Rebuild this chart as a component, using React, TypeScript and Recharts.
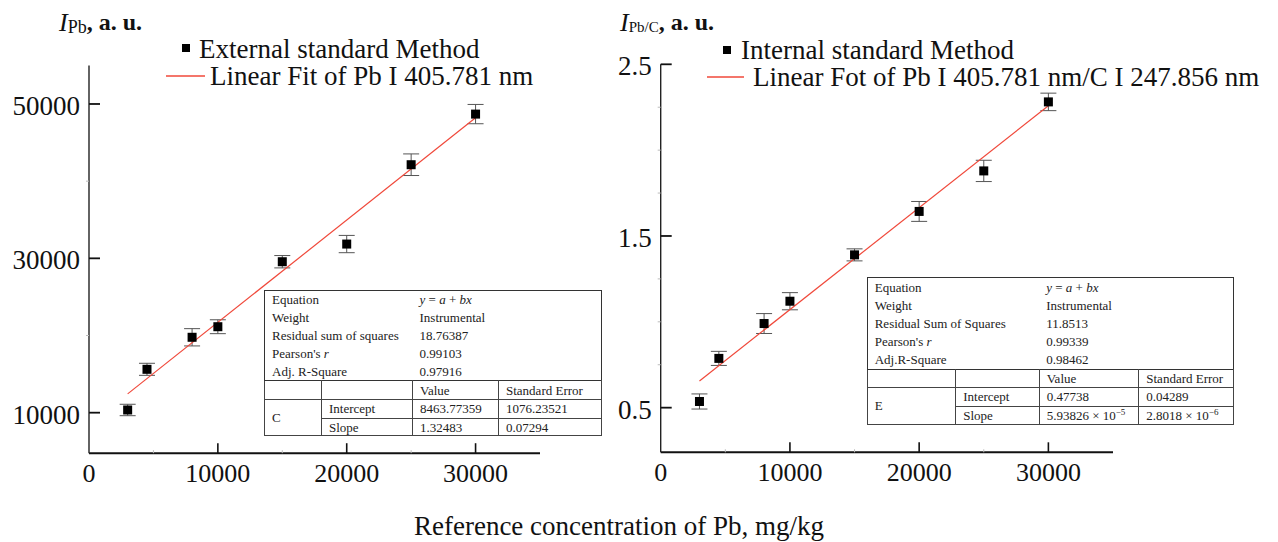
import React from "react";
import { ScatterChart, Scatter, XAxis, YAxis, ErrorBar } from "recharts";

const SERIF = "'Liberation Serif', 'Times New Roman', serif";
const INK = "#111";
const FIT_RED = "#f0483a";

// Pb content of the reference samples, mg/kg
const CONC = [3000, 4500, 8000, 10000, 15000, 20000, 25000, 30000];

// external standard: Pb I 405.781 nm intensity
const EXT_I = [10350, 15620, 19770, 21140, 29560, 31850, 42130, 48690];
const EXT_ERR = [740, 780, 1120, 900, 800, 1120, 1400, 1250];

// internal standard: Pb I 405.781 nm / C I 247.856 nm
const INT_I = [0.536, 0.787, 0.99, 1.12, 1.39, 1.643, 1.879, 2.281];
const INT_ERR = [0.044, 0.041, 0.058, 0.05, 0.035, 0.058, 0.062, 0.051];

// ends of the fitted lines
const FIT_X = [3000, 30000];
const EXT_FIT = [12438, 48208];
const INT_FIT = [0.6556, 2.2588];

const X_TICKS = [0, 5000, 10000, 15000, 20000, 25000, 30000];
const EXT_TICKS = [10000, 20000, 30000, 40000, 50000];
const EXT_LABELED = [10000, 30000, 50000];
const INT_TICKS = [0.5, 0.75, 1, 1.25, 1.5, 1.75, 2, 2.25, 2.5];
const INT_LABELED = [0.5, 1.5, 2.5];

const eq = (
  <>
    <i>y</i> = <i>a</i> + <i>bx</i>
  </>
);
const pearson = (
  <>
    Pearson's <i>r</i>
  </>
);

const EXT_STATS: [React.ReactNode, React.ReactNode][] = [
  ["Equation", eq],
  ["Weight", "Instrumental"],
  ["Residual sum of squares", "18.76387"],
  [pearson, "0.99103"],
  ["Adj. R-Square", "0.97916"],
];
const EXT_PARAMS: [string, React.ReactNode, React.ReactNode][] = [
  ["Intercept", "8463.77359", "1076.23521"],
  ["Slope", "1.32483", "0.07294"],
];

const sup = (p: string) => (
  <span style={{ fontSize: 9, verticalAlign: "5px", lineHeight: 0 }}>{p}</span>
);

const INT_STATS: [React.ReactNode, React.ReactNode][] = [
  ["Equation", eq],
  ["Weight", "Instrumental"],
  ["Residual Sum of Squares", "11.8513"],
  [pearson, "0.99339"],
  ["Adj.R-Square", "0.98462"],
];
const INT_PARAMS: [string, React.ReactNode, React.ReactNode][] = [
  ["Intercept", "0.47738", "0.04289"],
  ["Slope", <>5.93826 × 10{sup("−5")}</>, <>2.8018 × 10{sup("−6")}</>],
];

const AXIS_W = 60; // room given to the y axis
const AXIS_H = 40; // room given to the x axis

const Square = (props: any) => (
  <rect x={props.cx - 4.5} y={props.cy - 4.5} width={9} height={9} fill="#000" />
);
const NoDot = () => <g />;

const XTick = (props: any) => {
  const { x, y, payload } = props;
  const v = payload.value;
  const major = v % 10000 === 0;
  return (
    <g>
      {v !== 0 && (
        <line
          x1={x}
          x2={x}
          y1={y}
          y2={y - (major ? 10 : 3)}
          stroke={major ? INK : "#bbb"}
          strokeWidth={major ? 1.6 : 1}
        />
      )}
      {major && (
        <text
          x={x}
          y={y + 20}
          textAnchor="middle"
          dominantBaseline="central"
          fontFamily={SERIF}
          fontSize={26}
          fill={INK}
        >
          {v}
        </text>
      )}
    </g>
  );
};

function yTick(labeled: number[]) {
  return (props: any) => {
    const { x, y, payload } = props;
    const major = labeled.includes(payload.value);
    return (
      <g>
        {major ? (
          <line x1={x} x2={x + 11} y1={y} y2={y} stroke={INK} strokeWidth={1.8} />
        ) : (
          <line x1={x} x2={x - 3} y1={y} y2={y} stroke="#bbb" />
        )}
        {major && (
          <text
            x={x - 9}
            y={y + 2}
            textAnchor="end"
            dominantBaseline="central"
            fontFamily={SERIF}
            fontSize={27}
            fill={INK}
          >
            {payload.value}
          </text>
        )}
      </g>
    );
  };
}

function Panel(props: {
  left: number;
  width: number;
  plot: { top: number; right: number; bottom: number; left: number };
  yDomain: [number, number];
  yTicks: number[];
  labeled: number[];
  values: number[];
  errors: number[];
  fit: number[];
}) {
  const points = CONC.map((x, i) => ({ x, y: props.values[i], err: props.errors[i] }));
  const fitLine = FIT_X.map((x, i) => ({ x, y: props.fit[i] }));
  const p = props.plot;
  const margin = {
    top: p.top,
    right: p.right,
    bottom: p.bottom - AXIS_H,
    left: p.left - AXIS_W,
  };
  return (
    <div style={{ position: "absolute", left: props.left, top: 0 }}>
      <ScatterChart width={props.width} height={542} margin={margin}>
        <XAxis
          type="number"
          dataKey="x"
          domain={[0, 35000]}
          ticks={X_TICKS}
          interval={0}
          height={AXIS_H}
          tickSize={0}
          tickMargin={0}
          tickLine={false}
          axisLine={{ stroke: INK, strokeWidth: 2 }}
          tick={XTick}
        />
        <YAxis
          type="number"
          dataKey="y"
          domain={props.yDomain}
          ticks={props.yTicks}
          interval={0}
          width={AXIS_W}
          tickSize={0}
          tickMargin={0}
          tickLine={false}
          axisLine={{ stroke: "#222", strokeWidth: 1.4 }}
          tick={yTick(props.labeled)}
        />
        <Scatter
          data={fitLine}
          line={{ stroke: FIT_RED, strokeWidth: 1.2 }}
          shape={NoDot}
          isAnimationActive={false}
        />
        <Scatter data={points} shape={Square} isAnimationActive={false}>
          <ErrorBar
            dataKey="err"
            direction="y"
            width={8}
            stroke="#555"
            strokeWidth={1}
            isAnimationActive={false}
          />
        </Scatter>
      </ScatterChart>
    </div>
  );
}

function FitTable(props: {
  left: number;
  top: number;
  cols: number[];
  infoH: number;
  lowH: number[];
  stats: [React.ReactNode, React.ReactNode][];
  group: string;
  params: [string, React.ReactNode, React.ReactNode][];
}) {
  const cell: React.CSSProperties = { padding: "0 0 0 7px", whiteSpace: "nowrap" };
  const grid: React.CSSProperties = { ...cell, border: "1px solid #444" };
  const head: React.CSSProperties = { ...grid, borderTop: "1.6px solid #333" };
  const width = props.cols.reduce((a, b) => a + b, 0);
  return (
    <table
      style={{
        position: "absolute",
        left: props.left,
        top: props.top,
        width,
        borderCollapse: "collapse",
        tableLayout: "fixed",
        background: "#fff",
        border: "1.6px solid #333",
        fontFamily: SERIF,
        fontSize: 13,
        lineHeight: "13px",
        color: "#222",
      }}
    >
      <colgroup>
        {props.cols.map((w, i) => (
          <col key={i} style={{ width: w }} />
        ))}
      </colgroup>
      <tbody>
        {props.stats.map(([k, v], i) => (
          <tr key={i} style={{ height: props.infoH }}>
            <td colSpan={2} style={cell}>
              {k}
            </td>
            <td colSpan={2} style={cell}>
              {v}
            </td>
          </tr>
        ))}
        <tr style={{ height: props.lowH[0] }}>
          <td style={head} />
          <td style={head} />
          <td style={head}>Value</td>
          <td style={head}>Standard Error</td>
        </tr>
        {props.params.map(([name, val, err], i) => (
          <tr key={name} style={{ height: props.lowH[i + 1] }}>
            {i === 0 && (
              <td rowSpan={2} style={grid}>
                {props.group}
              </td>
            )}
            <td style={grid}>{name}</td>
            <td style={grid}>{val}</td>
            <td style={grid}>{err}</td>
          </tr>
        ))}
      </tbody>
    </table>
  );
}

function Overlay() {
  const t = { fontFamily: SERIF, fill: INK, dominantBaseline: "central" as const };
  return (
    <svg
      width={1278}
      height={542}
      style={{ position: "absolute", left: 0, top: 0, pointerEvents: "none" }}
    >
      {/* y titles */}
      <text x={59} y={22} {...t}>
        <tspan fontStyle="italic" fontSize={26}>I</tspan>
        <tspan fontSize={18} dy={5}>Pb</tspan>
        <tspan fontSize={24} fontWeight="bold" dy={-5}>, a. u.</tspan>
      </text>
      <text x={620} y={22} {...t}>
        <tspan fontStyle="italic" fontSize={26}>I</tspan>
        <tspan fontSize={15} dy={5}>Pb/C</tspan>
        <tspan fontSize={24} fontWeight="bold" dy={-5}>, a. u.</tspan>
      </text>

      {/* left legend */}
      <rect x={182} y={44} width={8} height={8} fill="#000" />
      <text x={199} y={48.5} fontSize={27} {...t}>External standard Method</text>
      <line x1={166} x2={205} y1={76} y2={76} stroke={FIT_RED} strokeWidth={1.4} />
      <text x={210} y={75.5} fontSize={27} {...t}>Linear Fit of Pb I 405.781 nm</text>

      {/* right legend */}
      <rect x={723} y={46} width={8} height={8} fill="#000" />
      <text x={741} y={50} fontSize={27} {...t}>Internal standard Method</text>
      <line x1={707} x2={744} y1={77} y2={77} stroke={FIT_RED} strokeWidth={1.4} />
      <text x={753} y={77} fontSize={27} {...t}>
        Linear Fot of Pb I 405.781 nm/C I 247.856 nm
      </text>

      {/* shared x title */}
      <text x={619} y={526} fontSize={27} textAnchor="middle" {...t}>
        Reference concentration of Pb, mg/kg
      </text>
    </svg>
  );
}

export default function App() {
  return (
    <div
      style={{
        position: "absolute",
        left: 0,
        top: 0,
        width: 1278,
        height: 542,
        background: "#fff",
        overflow: "hidden",
      }}
    >
      <Panel
        left={0}
        width={560}
        plot={{ top: 65.4, right: 20, bottom: 88.8, left: 89 }}
        yDomain={[4750, 55000]}
        yTicks={EXT_TICKS}
        labeled={EXT_LABELED}
        values={EXT_I}
        errors={EXT_ERR}
        fit={EXT_FIT}
      />
      <Panel
        left={560}
        width={718}
        plot={{ top: 64.3, right: 165, bottom: 89.7, left: 100.7 }}
        yDomain={[0.24, 2.5]}
        yTicks={INT_TICKS}
        labeled={INT_LABELED}
        values={INT_I}
        errors={INT_ERR}
        fit={INT_FIT}
      />
      <Overlay />
      <FitTable
        left={264}
        top={289.5}
        cols={[57, 91, 86, 103]}
        infoH={18.1}
        lowH={[19.3, 18.4, 17.8]}
        stats={EXT_STATS}
        group="C"
        params={EXT_PARAMS}
      />
      <FitTable
        left={866.7}
        top={277.3}
        cols={[88.6, 83.4, 99.6, 95]}
        infoH={18.3}
        lowH={[18.3, 18.7, 17.8]}
        stats={INT_STATS}
        group="E"
        params={INT_PARAMS}
      />
    </div>
  );
}
